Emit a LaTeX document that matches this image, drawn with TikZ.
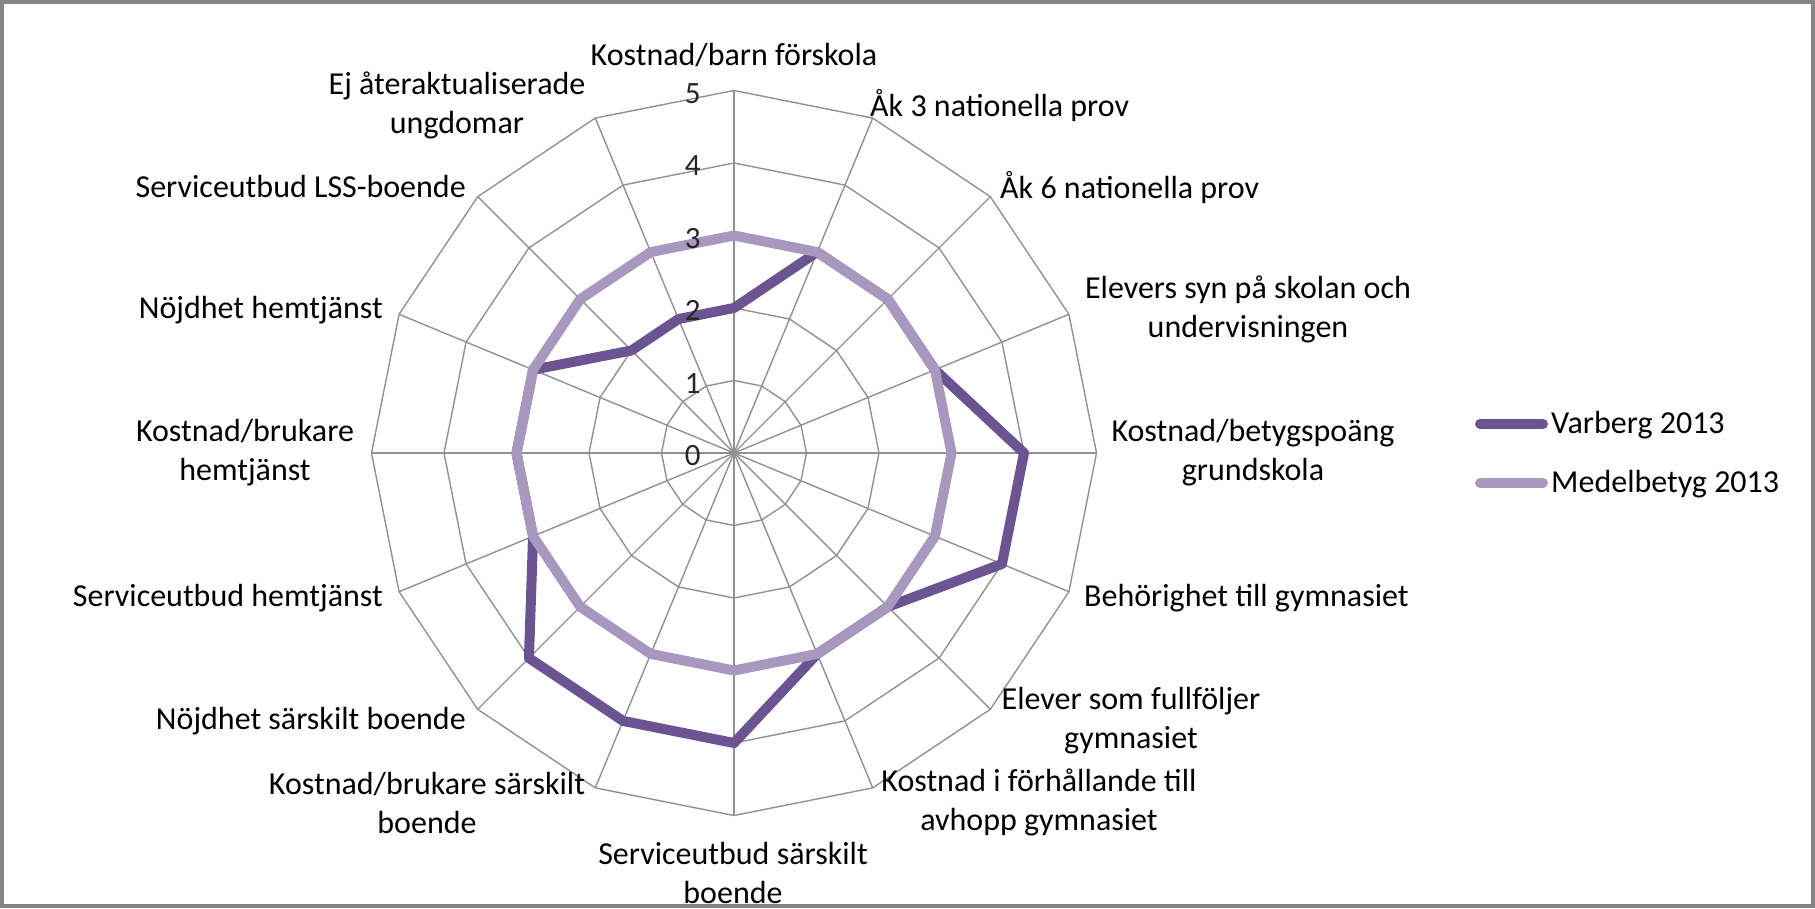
\documentclass[tikz,border=0pt]{standalone}
\usepackage{fontspec}
\setmainfont{Carlito}
\definecolor{varb}{RGB}{107,84,146}
\definecolor{medel}{RGB}{168,152,192}
\definecolor{gridc}{RGB}{145,145,145}
\definecolor{framec}{RGB}{134,134,134}
\begin{document}
\begin{tikzpicture}[x=1pt,y=1pt,
  lab/.style={font=\fontsize{32}{39}\selectfont, inner sep=0pt, align=center, text=black},
  ticklab/.style={font=\fontsize{31}{36}\selectfont, inner sep=0pt, text=black!85},
  gridline/.style={draw=gridc, line width=1.4pt},
  varbline/.style={draw=varb, line width=10pt, line join=round},
  medelline/.style={draw=medel, line width=10pt, line join=round},
  legline/.style={line width=10pt, line cap=round}]
\useasboundingbox (0,0) rectangle (1815,908);
\fill[white] (0,0) rectangle (1815,908);
\draw[framec, line width=4pt] (2,2) rectangle (1813,906);

\begin{scope}[shift={(734pt,455pt)}, x=72.5pt, y=72.5pt]
  \coordinate (C) at (0,0);
  \foreach \k in {1,...,5} {
    \draw[gridline] (90:\k) \foreach \i in {1,...,15} { -- ({90-22.5*\i}:\k) } -- cycle;
  }
  \foreach \i in {0,...,15} {
    \draw[gridline] (C) -- ({90-22.5*\i}:5) coordinate (e\i);
  }
  \draw[varbline] (90:2) -- (67.5:3) -- (45:3) -- (22.5:3) -- (0:4) -- (-22.5:4)
     -- (-45:3) -- (-67.5:3) -- (-90:4) -- (-112.5:4) -- (-135:4) -- (-157.5:3)
     -- (180:3) -- (157.5:3) -- (135:2) -- (112.5:2) -- cycle;
  \draw[medelline] (90:3) \foreach \i in {1,...,15} { -- ({90-22.5*\i}:3) } -- cycle;
  \foreach \k in {0,...,5} {
    \node[ticklab] (t\k) at (-0.57, \k-0.04) {\k};
  }
\end{scope}

\node[lab] (l0) at (734,853) {Kostnad/barn förskola};
\node[lab, anchor=west] (l1) at (870,802) {Åk 3 nationella prov};
\node[lab, anchor=west] (l2) at (1000,720) {Åk 6 nationella prov};
\node[lab] (l3) at (1248,599) {Elevers syn på skolan och\\undervisningen};
\node[lab] (l4) at (1253,455) {Kostnad/betygspoäng\\grundskola};
\node[lab, anchor=west] (l5) at (1084,310) {Behörighet till gymnasiet};
\node[lab] (l6) at (1131,187) {Elever som fullföljer\\gymnasiet};
\node[lab] (l7) at (1039,105.5) {Kostnad i förhållande till\\avhopp gymnasiet};
\node[lab] (l8) at (733,35.5) {Serviceutbud särskilt\\boende};
\node[lab] (l9) at (427,105.5) {Kostnad/brukare särskilt\\boende};
\node[lab, anchor=east] (l10) at (466,187) {Nöjdhet särskilt boende};
\node[lab, anchor=east] (l11) at (383,310) {Serviceutbud hemtjänst};
\node[lab] (l12) at (245,455) {Kostnad/brukare\\hemtjänst};
\node[lab, anchor=east] (l13) at (383,598) {Nöjdhet hemtjänst};
\node[lab, anchor=east] (l14) at (466,721) {Serviceutbud LSS-boende};
\node[lab] (l15) at (457,802.5) {Ej återaktualiserade\\ungdomar};

\coordinate (va) at (1480,484);
\coordinate (vb) at (1543,484);
\draw[legline, varb] (va) -- (vb);
\node[lab, anchor=west] (lv) at (1551,483) {Varberg 2013};
\coordinate (ma) at (1480,425);
\coordinate (mb) at (1543,425);
\draw[legline, medel] (ma) -- (mb);
\node[lab, anchor=west] (lm) at (1551,424) {Medelbetyg 2013};
\end{tikzpicture}
\end{document}
